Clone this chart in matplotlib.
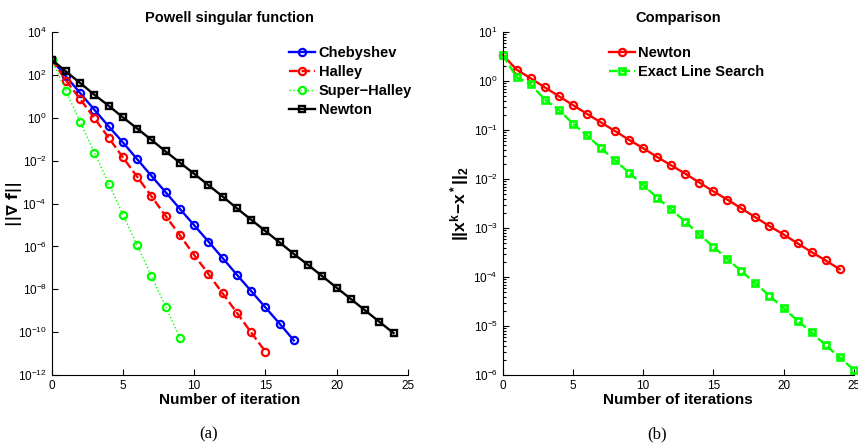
import numpy as np
import matplotlib.pyplot as plt
from matplotlib.ticker import LogLocator, NullFormatter, NullLocator

plt.rcParams['font.family'] = ['Liberation Sans', 'DejaVu Sans']
plt.rcParams['mathtext.fontset'] = 'custom'
plt.rcParams['mathtext.rm'] = 'Liberation Sans'
plt.rcParams['mathtext.bf'] = 'Liberation Sans:bold'
plt.rcParams['mathtext.it'] = 'Liberation Sans:italic'

# log10 of ||grad f||
cheb_log = [2.71, 1.93, 1.15, 0.37, -0.40, -1.15, -1.93, -2.71, -3.47, -4.25,
            -5.01, -5.77, -6.54, -7.32, -8.08, -8.84, -9.60, -10.38]
halley_log = [2.71, 1.74, 0.87, -0.02, -0.93, -1.85, -2.75, -3.66, -4.58,
              -5.48, -6.40, -7.28, -8.19, -9.09, -10.01, -10.90]
super_log = [2.71, 1.25, -0.20, -1.63, -3.07, -4.51, -5.95, -7.38, -8.81, -10.26]
newton_a_log = [2.71, 2.16, 1.62, 1.07, 0.56, 0.02, -0.50, -1.03, -1.57, -2.09,
                -2.61, -3.14, -3.67, -4.22, -4.75, -5.28, -5.81, -6.35, -6.86,
                -7.39, -7.92, -8.45, -8.98, -9.51, -10.04]

# log10 of ||x^k - x^*||_2
newton_b_log = [0.53, 0.23, 0.054, -0.13, -0.31, -0.49, -0.67, -0.845, -1.02,
                -1.20, -1.37, -1.55, -1.72, -1.89, -2.07, -2.25, -2.42, -2.60,
                -2.78, -2.96, -3.13, -3.31, -3.49, -3.66, -3.84]
exact_log = [0.53, 0.074, -0.07, -0.38, -0.59, -0.87, -1.11, -1.37, -1.62, -1.87,
             -2.12, -2.38, -2.62, -2.87, -3.13, -3.38, -3.63, -3.88, -4.13, -4.38,
             -4.63, -4.89, -5.13, -5.39, -5.64, -5.89]

def it(v):
    return np.arange(len(v))

fig = plt.figure(figsize=(8.58, 4.45), dpi=100)
ax1 = fig.add_axes([0.0603, 0.157, 0.415, 0.771])
ax2 = fig.add_axes([0.586, 0.157, 0.409, 0.771])

ax1.semilogy(it(cheb_log), 10.0 ** np.array(cheb_log), '-o', color='#0000ff', lw=1.7,
             ms=5.2, mfc='none', mew=1.6, label='Chebyshev')
ax1.semilogy(it(halley_log), 10.0 ** np.array(halley_log), '--o', color='#ff0000', lw=1.7,
             ms=5.2, mfc='none', mew=1.6, label='Halley')
ax1.semilogy(it(super_log), 10.0 ** np.array(super_log), ':o', color='#00ff00', lw=1.0,
             ms=5.2, mfc='none', mew=1.6, label='Super\u2212Halley')
ax1.semilogy(it(newton_a_log), 10.0 ** np.array(newton_a_log), '-s', color='black', lw=1.7,
             ms=4.6, mfc='none', mew=1.7, label='Newton')

ax2.semilogy(it(newton_b_log), 10.0 ** np.array(newton_b_log), '-o', color='#ff0000', lw=1.7,
             ms=5.2, mfc='none', mew=1.6, label='Newton', clip_on=False)
ax2.semilogy(it(exact_log), 10.0 ** np.array(exact_log), '--s', color='#00ff00', lw=1.7,
             ms=4.6, mfc='none', mew=1.9, label='Exact Line Search', clip_on=False)

for ax in (ax1, ax2):
    ax.set_xlim(0, 25)
    ax.set_xticks([0, 5, 10, 15, 20, 25])
    ax.spines['top'].set_visible(False)
    ax.spines['right'].set_visible(False)
    ax.tick_params(which='both', direction='in', labelsize=8.5, width=0.8)
    ax.tick_params(which='major', length=4)
    ax.tick_params(which='minor', length=2)
    ax.set_xlabel('Number of iteration' + ('s' if ax is ax2 else ''),
                  fontsize=11, fontweight='bold', labelpad=1)
    ax.legend(loc='upper right', frameon=False, handlelength=1.8,
              handletextpad=0.25, labelspacing=0.35, borderaxespad=0.3,
              prop={'weight': 'bold', 'size': 10.5})

ax1.set_ylim(1e-12, 1e4)
ax1.set_yticks([10.0 ** k for k in range(-12, 5, 2)])
ax1.yaxis.set_minor_locator(NullLocator())
ax1.set_title('Powell singular function', fontsize=10.5, fontweight='bold', pad=7)
ax1.set_ylabel('||\u2207 f||', fontsize=11, fontweight='bold', family='DejaVu Sans')
ax1.yaxis.set_label_coords(-0.083, 0.5)
leg1 = ax1.get_legend()
leg1.set_bbox_to_anchor((1.04, 0.99))

ax2.set_ylim(1e-6, 1e1)
ax2.yaxis.set_major_locator(LogLocator(base=10, numticks=20))
ax2.yaxis.set_minor_locator(LogLocator(base=10, subs=np.arange(2, 10), numticks=20))
ax2.yaxis.set_minor_formatter(NullFormatter())
ax2.set_title('Comparison', fontsize=10.5, fontweight='bold', pad=7)
ax2.set_ylabel(r'$\mathbf{||x^k\!-\!x^*||_2}$', fontsize=12.5)
ax2.yaxis.set_label_coords(-0.09, 0.5)
leg2 = ax2.get_legend()
leg2.set_bbox_to_anchor((0.775, 0.99))

fig.text(0.2436, 0.015, '(a)', family='Liberation Serif', fontsize=12, ha='center')
fig.text(0.7657, 0.015, '(b)', family='Liberation Serif', fontsize=12, ha='center')

fig.savefig('out.png', dpi=100)
